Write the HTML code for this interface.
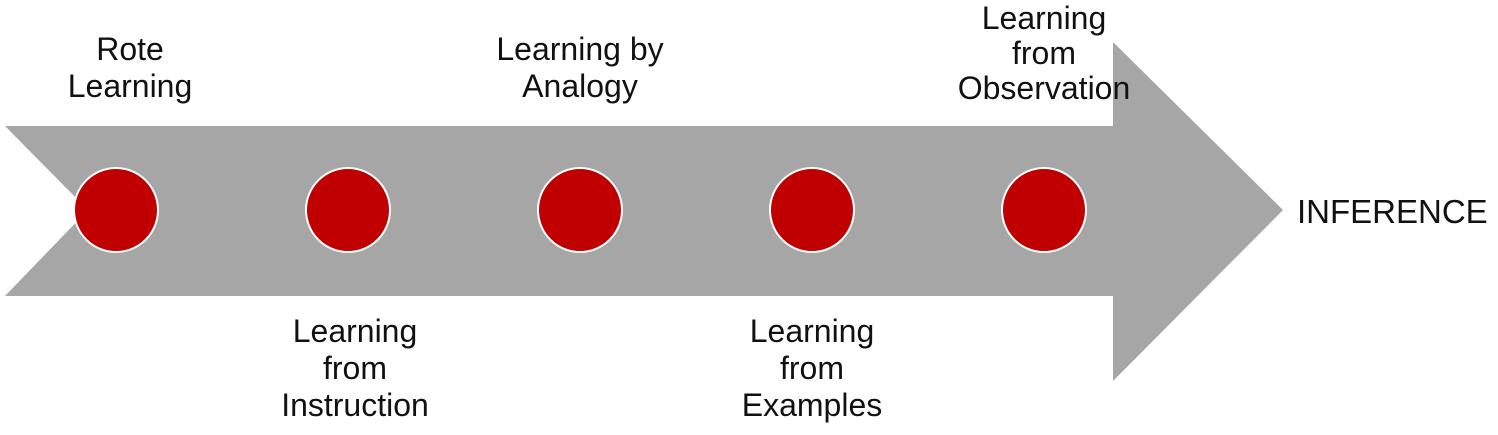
<!DOCTYPE html>
<html><head><style>
body{margin:0;width:1498px;height:435px;background:#fff;overflow:hidden;position:relative;font-family:"Liberation Sans",sans-serif;}
.t{position:absolute;font-size:32px;line-height:37px;text-align:center;color:#111;width:300px;}
</style></head><body>
<svg width="1498" height="435" style="position:absolute;left:0;top:0">
<polygon points="5,126 1113,126 1113,42 1283,210 1113,381 1113,296 5,296 88,210" fill="#a6a6a6"/>
<g fill="#c00000" stroke="#fff" stroke-width="2">
<circle cx="116" cy="210" r="42"/><circle cx="348" cy="210" r="42"/><circle cx="580" cy="210" r="42"/><circle cx="812" cy="210" r="42"/><circle cx="1044" cy="210" r="42"/>
</g></svg>
<div class="t" style="left:-20px;top:31px">Rote<br>Learning</div>
<div class="t" style="left:430px;top:31px">Learning by<br>Analogy</div>
<div class="t" style="left:894px;top:1px;line-height:35px">Learning<br>from<br>Observation</div>
<div class="t" style="left:205px;top:313px">Learning<br>from<br>Instruction</div>
<div class="t" style="left:662px;top:313px">Learning<br>from<br>Examples</div>
<div class="t" style="left:1297px;top:193px;text-align:left;width:200px;font-size:33px">INFERENCE</div>
</body></html>
